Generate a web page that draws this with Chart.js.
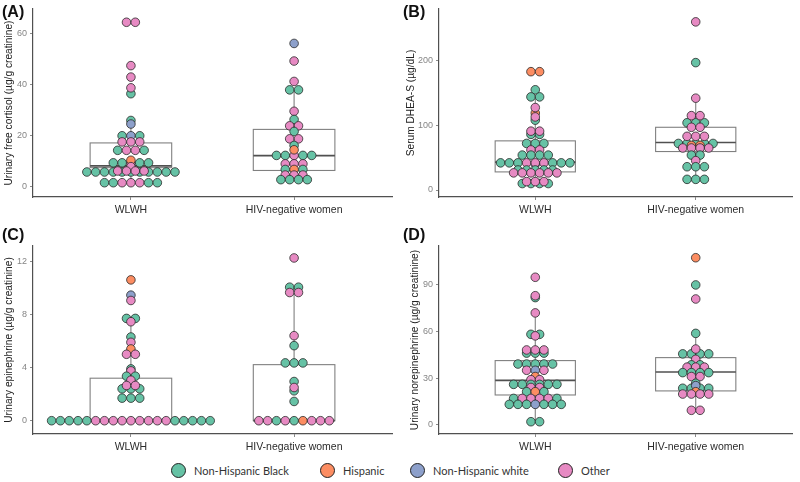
<!DOCTYPE html>
<html>
<head>
<meta charset="utf-8">
<script src="https://cdn.jsdelivr.net/npm/chart.js@4.4.1/dist/chart.umd.min.js"></script>
<style>
  body { margin: 0; background: #fff; }
  #wrap { position: relative; width: 800px; height: 482px; overflow: hidden; font-family: 'Liberation Sans', Arial, sans-serif; }
  #wrap canvas { position: absolute; }
  .tag { position: absolute; font-weight: bold; font-size: 16px; color: #111; line-height: 1; }
  .legend-item { position: absolute; top: 463px; display: flex; align-items: center; font-family: Lato, 'Liberation Sans', sans-serif; font-size: 11px; color: #333; white-space: nowrap; }
  .legend-dot { width: 15px; height: 15px; border-radius: 50%; border: 1.3px solid #222; box-sizing: border-box; margin-right: 8px; }
</style>
</head>
<body>
<div id="wrap">
  <canvas id="chart-a" width="400" height="215" style="left:0;top:0"></canvas>
  <canvas id="chart-b" width="400" height="215" style="left:400px;top:0"></canvas>
  <canvas id="chart-c" width="400" height="245" style="left:0;top:215px"></canvas>
  <canvas id="chart-d" width="400" height="245" style="left:400px;top:215px"></canvas>
  <div class="tag" style="left:2px;top:4px">(A)</div>
  <div class="tag" style="left:403px;top:4px">(B)</div>
  <div class="tag" style="left:2px;top:227px">(C)</div>
  <div class="tag" style="left:403px;top:227px">(D)</div>
  <div id="legend"></div>
</div>
<script>
// groups and race codes
const groups = ['WLWH', 'HIV-negative women'];
const raceCodes = ['g', 'o', 'b', 'p'];
const raceNames = { g: 'Non-Hispanic Black', o: 'Hispanic', b: 'Non-Hispanic white', p: 'Other' };
const raceColors = { g: '#66C2A5', o: '#FC8D62', b: '#8DA0CB', p: '#E78AC3' };

// each row = one dot-plot bin: value + races of its dots, left to right (later rows drawn on top)
// (A) urinary free cortisol
const cortisolTicks = [0, 20, 40, 60];
const cortisolWLWH = [64.5, 47.5, 43, 36.5, 38.8, 26, 24.6, 20, 17.6, 14.3, 9.4, 10.4, 5.8, 1.6, 7.9, 6.2];
const cortisolWLWHRace = ['pp', 'p', 'p', 'g', 'p', 'g', 'b', 'gbg', 'ppp', 'gppg', 'ggpgg', 'o', 'ggggggggggg', 'ggpppgg', 'p', 'pppp'];
const cortisolNeg = [56.2, 49.3, 41.3, 38, 29.6, 26.4, 23.9, 21.7, 18.8, 16.2, 12.3, 14.5, 9, 6.8, 4.6, 2.8];
const cortisolNegRace = ['b', 'p', 'p', 'gg', 'p', 'g', 'pp', 'g', 'pp', 'g', 'ggpgg', 'o', 'ppp', 'gog', 'ppp', 'gggg'];
const cortisolBox = [[1.6, 7.5, 8.2, 17.2, 26], [2.8, 6.4, 12.2, 22.5, 38]]; // low, q1, median, q3, high

// (B) serum DHEA-S
const dheaTicks = [0, 100, 200];
const dheaWLWH = [183, 155, 144, 108, 119, 113, 127.5, 86, 91, 72, 62, 54, 40, 42, 31, 26.5, 10, 13];
const dheaWLWHRace = ['oo', 'g', 'gg', 'g', 'o', 'p', 'p', 'gg', 'pp', 'ggg', 'pp', 'gggg', 'b', 'gggpppggg', 'ggggg', 'pppppp', 'gggg', 'ppp'];
const dheaNeg = [260, 197, 142, 104, 115, 97, 72, 69, 83, 65, 54, 45.4, 36, 16.5];
const dheaNegRace = ['p', 'g', 'p', 'ggg', 'pp', 'pp', 'ggggg', 'oo', 'ppp', 'pppp', 'gg', 'p', 'ggg', 'ggg'];
const dheaBox = [[10, 28, 43, 76, 144], [16.5, 59.5, 73.5, 97, 142]];

// (C) urinary epinephrine
const epiTicks = [0, 4, 8, 12];
const epiWLWH = [10.6, 9.45, 9.05, 7.7, 7.45, 6.3, 5.9, 5.4, 5.0, 3.9, 3.75, 3.35, 3.05, 2.4, 2.65, 1.7, 0];
const epiWLWHRace = ['o', 'b', 'p', 'gg', 'p', 'g', 'p', 'o', 'pp', 'g', 'p', 'gg', 'p', 'ggg', 'pp', 'ggg', 'gggggpppppppppggggg'];
const epiNeg = [12.25, 10.05, 9.65, 6.4, 5.65, 4.35, 2.95, 2.25, 2.5, 1.45, 0];
const epiNegRace = ['p', 'gg', 'pp', 'p', 'g', 'ggg', 'g', 'g', 'p', 'g', 'ppgpgoppp'];
const epiBox = [[0, 0, 0, 3.2, 7.7], [0, 0, 0, 4.22, 10.05]];

// (D) urinary norepinephrine
const norepiTicks = [0, 30, 60, 90];
const norepiWLWH = [94.5, 81.5, 82.7, 71.7, 58, 57, 46, 48, 39, 35, 31, 29, 26, 24, 21.3, 17, 13.2, 2.1];
const norepiWLWHRace = ['p', 'g', 'p', 'p', 'gg', 'p', 'ggg', 'ppp', 'ggggg', 'pbp', 'o', 'pp', 'gggggg', 'pp', 'gog', 'gppppg', 'gggbggg', 'gg'];
const norepiNeg = [107, 89.6, 80.6, 58.6, 45.5, 48.6, 42, 38.5, 37, 33.5, 31, 26.7, 23.5, 25.2, 21.3, 19.8, 9.4];
const norepiNegRace = ['o', 'g', 'p', 'g', 'gggg', 'p', 'p', 'gg', 'ppp', 'gggg', 'pp', 'g', 'gggg', 'b', 'o', 'pppp', 'pp'];
const norepiBox = [[2.1, 19.2, 28.6, 41.2, 71.7], [9.4, 21.8, 33.9, 43.1, 58.6]];

const DOT_STEP = 0.054; // horizontal step between stacked dots, in category units

const panels = [
    { id: 'chart-a', title: 'Urinary free cortisol (µg/g creatinine)', ticks: cortisolTicks, min: -4, max: 69.7,
      rows: [[cortisolWLWH, cortisolWLWHRace], [cortisolNeg, cortisolNegRace]], box: cortisolBox,
      padTop: 9, yWidth: 33, xHeight: 18, titlePad: 2.8 },
    { id: 'chart-b', title: 'Serum DHEA-S (µg/dL)', ticks: dheaTicks, min: -10.8, max: 279.9,
      rows: [[dheaWLWH, dheaWLWHRace], [dheaNeg, dheaNegRace]], box: dheaBox,
      padTop: 9, yWidth: 39, xHeight: 18, titlePad: 4.6 },
    { id: 'chart-c', title: 'Urinary epinephrine (µg/g creatinine)', ticks: epiTicks, min: -1, max: 13.15,
      rows: [[epiWLWH, epiWLWHRace], [epiNeg, epiNegRace]], box: epiBox,
      padTop: 31, yWidth: 33, xHeight: 26, titlePad: 2.8 },
    { id: 'chart-d', title: 'Urinary norepinephrine (µg/g creatinine)', ticks: norepiTicks, min: -5.76, max: 114.5,
      rows: [[norepiWLWH, norepiWLWHRace], [norepiNeg, norepiNegRace]], box: norepiBox,
      padTop: 31, yWidth: 39, xHeight: 26, titlePad: 9.4 },
];

// centre-stacked dot plot positions from the bins
const swarm = (rows) => {
    const pts = [];
    const colors = [];
    rows.forEach(([vals, races], gi) => {
        vals.forEach((v, i) => {
            const n = races[i].length;
            [...races[i]].forEach((r, k) => {
                pts.push({ x: gi + 1 + (k - (n - 1) / 2) * DOT_STEP, y: v });
                colors.push(raceColors[r]);
            });
        });
    });
    return { pts, colors };
};

const boxPlugin = (stats) => ({
    id: 'boxes',
    beforeDatasetsDraw(chart) {
        const { ctx, scales: { x, y } } = chart;
        stats.forEach(([lo, q1, med, q3, hi], gi) => {
            const cx = x.getPixelForValue(gi + 1);
            const x0 = x.getPixelForValue(gi + 0.75);
            const x1 = x.getPixelForValue(gi + 1.25);
            ctx.save();
            ctx.strokeStyle = '#808080';
            ctx.lineWidth = 1.1;
            ctx.beginPath();
            ctx.moveTo(cx, y.getPixelForValue(hi));
            ctx.lineTo(cx, y.getPixelForValue(q3));
            ctx.moveTo(cx, y.getPixelForValue(q1));
            ctx.lineTo(cx, y.getPixelForValue(lo));
            ctx.stroke();
            ctx.strokeRect(x0, y.getPixelForValue(q3), x1 - x0, y.getPixelForValue(q1) - y.getPixelForValue(q3));
            ctx.strokeStyle = '#505050';
            ctx.lineWidth = 1.7;
            ctx.beginPath();
            ctx.moveTo(x0, y.getPixelForValue(med));
            ctx.lineTo(x1, y.getPixelForValue(med));
            ctx.stroke();
            ctx.restore();
        });
    },
});

panels.forEach((p) => {
    const { pts, colors } = swarm(p.rows);
    new Chart(document.getElementById(p.id), {
        type: 'scatter',
        data: {
            datasets: [{
                data: pts,
                pointBackgroundColor: colors,
                pointBorderColor: '#2a2a2a',
                pointBorderWidth: 0.8,
                pointRadius: 4.3,
                pointHoverRadius: 4.3,
            }],
        },
        plugins: [boxPlugin(p.box)],
        options: {
            responsive: false,
            animation: false,
            events: [],
            layout: { padding: { top: p.padTop, right: 8, left: 0, bottom: 0 } },
            plugins: { legend: { display: false }, tooltip: { enabled: false } },
            scales: {
                x: {
                    type: 'linear',
                    min: 0.4,
                    max: 2.6,
                    afterBuildTicks: (ax) => { ax.ticks = [{ value: 1 }, { value: 2 }]; },
                    afterFit: (ax) => { ax.height = p.xHeight; },
                    ticks: {
                        callback: (v) => groups[v - 1],
                        color: '#2b2b2b',
                        font: { family: "'Liberation Sans', Arial, sans-serif", size: 10.5 },
                        padding: 4,
                        autoSkip: false,
                        maxRotation: 0,
                    },
                    grid: { drawOnChartArea: false, tickLength: 3, color: '#8a8a8a' },
                    border: { color: '#505050', width: 1.2 },
                },
                y: {
                    min: p.min,
                    max: p.max,
                    afterBuildTicks: (ax) => { ax.ticks = p.ticks.map(v => ({ value: v })); },
                    afterFit: (ax) => { ax.width = p.yWidth; },
                    ticks: {
                        color: '#858585',
                        font: { family: "'Liberation Sans', Arial, sans-serif", size: 9 },
                        padding: 3,
                    },
                    grid: { drawOnChartArea: false, tickLength: 3, color: '#8a8a8a' },
                    border: { color: '#505050', width: 1.2 },
                    title: {
                        display: true,
                        text: p.title,
                        color: '#222',
                        font: { family: "'Liberation Sans', Arial, sans-serif", size: 10.2 },
                        padding: { top: p.titlePad, bottom: 0 },
                    },
                },
            },
        },
    });
});

// legend
const legendLeft = [171, 320, 410, 558];
const legend = document.getElementById('legend');
raceCodes.forEach((r, i) => {
    const item = document.createElement('div');
    item.className = 'legend-item';
    item.style.left = legendLeft[i] + 'px';
    item.innerHTML = `<span class="legend-dot" style="background:${raceColors[r]}"></span><span>${raceNames[r]}</span>`;
    legend.appendChild(item);
});
</script>
</body>
</html>
